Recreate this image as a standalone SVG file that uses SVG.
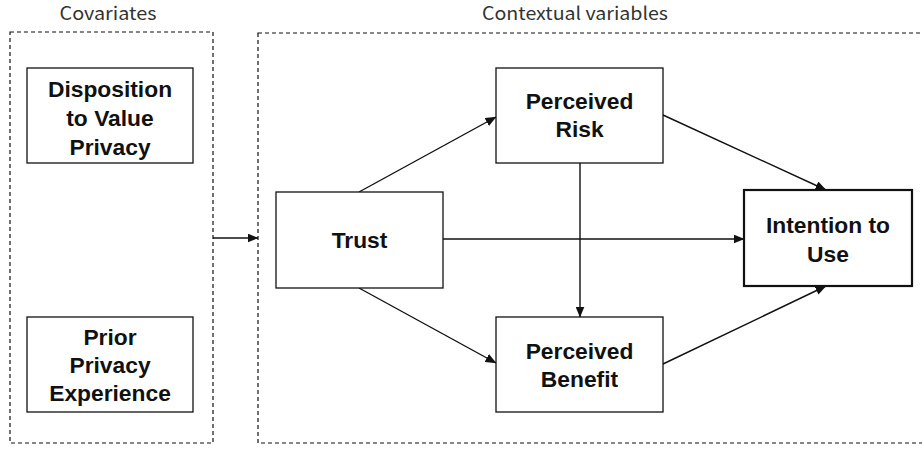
<svg xmlns="http://www.w3.org/2000/svg" width="922" height="449" viewBox="0 0 922 449">
  <style>
    .frame { fill: none; stroke: #111; stroke-width: 1.2; stroke-dasharray: 4 3; }
    .box { fill: #fff; stroke: #111; stroke-width: 1.3; }
    .box-strong { fill: #fff; stroke: #111; stroke-width: 2.2; }
    .lbl { font-family: "Liberation Sans", Arial, sans-serif; font-weight: bold; font-size: 22.8px; fill: #111; text-anchor: middle; }
    .grp { font-family: "Noto Sans CJK JP", "Noto Sans", sans-serif; font-weight: 400; font-size: 18px; fill: #333; text-anchor: middle; }
    .edge { fill: none; stroke: #111; stroke-width: 1.4; marker-end: url(#arrow); }
  </style>
  <defs>
    <marker id="arrow" markerUnits="userSpaceOnUse" markerWidth="11" markerHeight="9" refX="10.5" refY="4.5" orient="auto">
      <path d="M0,0 L11,4.5 L0,9 z" fill="#111"/>
    </marker>
  </defs>
  <rect width="922" height="449" fill="#fff"/>

  <g id="covariates-frame">
    <rect class="frame" x="10" y="32" width="203" height="411"/>
    <text class="grp" x="108" y="20" textLength="97" lengthAdjust="spacingAndGlyphs">Covariates</text>
  </g>
  <g id="contextual-frame">
    <rect class="frame" x="258" y="33" width="670" height="410"/>
    <text class="grp" x="575" y="20" textLength="186" lengthAdjust="spacingAndGlyphs">Contextual variables</text>
  </g>

  <g id="connectors">
    <line class="edge" x1="213" y1="238" x2="258" y2="238"/>
    <line class="edge" x1="359" y1="192" x2="496" y2="117"/>
    <line class="edge" x1="359" y1="288" x2="496" y2="363"/>
    <line class="edge" x1="443" y1="239" x2="744" y2="239"/>
    <line class="edge" x1="580" y1="163" x2="580" y2="317"/>
    <line class="edge" x1="663" y1="115" x2="826" y2="190"/>
    <line class="edge" x1="663" y1="364" x2="826" y2="286"/>
  </g>

  <g id="disposition">
    <rect class="box" x="27" y="68" width="166" height="95"/>
    <text class="lbl" x="110" y="97">Disposition</text>
    <text class="lbl" x="110" y="126">to Value</text>
    <text class="lbl" x="110" y="155">Privacy</text>
  </g>
  <g id="prior">
    <rect class="box" x="27" y="317" width="166" height="95"/>
    <text class="lbl" x="110" y="345">Prior</text>
    <text class="lbl" x="110" y="373">Privacy</text>
    <text class="lbl" x="110" y="401">Experience</text>
  </g>
  <g id="trust">
    <rect class="box" x="276" y="192" width="167" height="96"/>
    <text class="lbl" x="359.5" y="248">Trust</text>
  </g>
  <g id="risk">
    <rect class="box" x="496" y="68" width="167" height="95"/>
    <text class="lbl" x="579.5" y="109">Perceived</text>
    <text class="lbl" x="579.5" y="137">Risk</text>
  </g>
  <g id="benefit">
    <rect class="box" x="496" y="317" width="167" height="95"/>
    <text class="lbl" x="579.5" y="359">Perceived</text>
    <text class="lbl" x="579.5" y="387">Benefit</text>
  </g>
  <g id="intention">
    <rect class="box-strong" x="744" y="190" width="168" height="96"/>
    <text class="lbl" x="828" y="233">Intention to</text>
    <text class="lbl" x="828" y="262">Use</text>
  </g>
</svg>
